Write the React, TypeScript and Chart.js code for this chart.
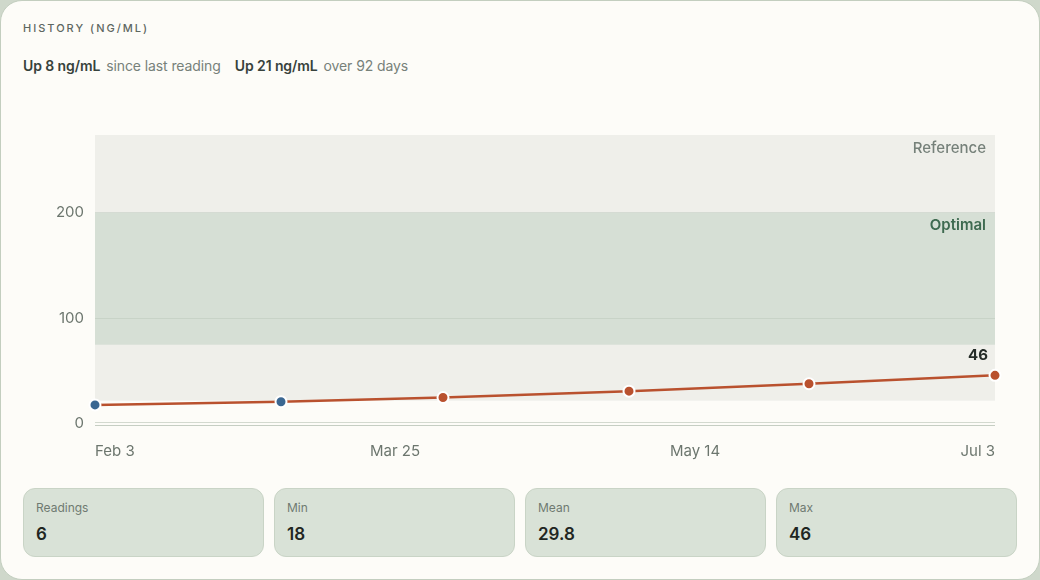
import React, { useEffect, useRef } from "react";
import { Chart, registerables } from "chart.js";

Chart.register(...registerables);

const readingDates = ["2025-02-03", "2025-03-06", "2025-04-02", "2025-05-03", "2025-06-02", "2025-07-03"];
const readingValues = [18, 21, 25, 31, 38, 46];
const pointColors = ["#3b6791", "#3b6791", "#b9512e", "#b9512e", "#b9512e", "#b9512e"];
const xTickDates = ["2025-02-03", "2025-03-25", "2025-05-14", "2025-07-03"];
const yTickValues = [0, 100, 200];
const referenceLow = 22;
const optimalRange = [75, 200];
const yMin = -2;
const yMax = 273.6;
const statLabels = ["Readings", "Min", "Mean", "Max"];
const statValues = ["6", "18", "29.8", "46"];

const FONT = "Inter, 'DejaVu Sans', sans-serif";
const DAY = 86400000;
const baseTime = Date.parse(readingDates[0] + "T00:00:00Z");
const toDay = (s: string) => Math.round((Date.parse(s + "T00:00:00Z") - baseTime) / DAY);
const MONTHS = ["Jan", "Feb", "Mar", "Apr", "May", "Jun", "Jul", "Aug", "Sep", "Oct", "Nov", "Dec"];
const fmtDay = (d: number) => {
  const dt = new Date(baseTime + d * DAY);
  return MONTHS[dt.getUTCMonth()] + " " + dt.getUTCDate();
};

const bandsPlugin = {
  id: "bands",
  beforeDraw(chart: any) {
    const { ctx, chartArea, scales } = chart;
    const y = scales.y;
    ctx.save();
    const top = chartArea.top;
    const refBottom = y.getPixelForValue(referenceLow);
    ctx.fillStyle = "#efefea";
    ctx.fillRect(chartArea.left, top, chartArea.right - chartArea.left, refBottom - top);
    const oTop = y.getPixelForValue(optimalRange[1]);
    const oBot = y.getPixelForValue(optimalRange[0]);
    ctx.fillStyle = "#d6dfd5";
    ctx.fillRect(chartArea.left, oTop, chartArea.right - chartArea.left, oBot - oTop);
    ctx.restore();
  },
  beforeDatasetsDraw(chart: any) {
    const { ctx, chartArea, scales } = chart;
    const y0 = scales.y.getPixelForValue(0);
    ctx.save();
    ctx.lineWidth = 1;
    ctx.strokeStyle = "#d3d9cf";
    ctx.beginPath();
    const a = Math.round(y0 - 1.5) + 0.5;
    ctx.moveTo(chartArea.left, a);
    ctx.lineTo(chartArea.right, a);
    ctx.stroke();
    ctx.strokeStyle = "#c6cec3";
    ctx.beginPath();
    const b = Math.round(y0 + 1.5) + 0.5;
    ctx.moveTo(chartArea.left, b);
    ctx.lineTo(chartArea.right, b);
    ctx.stroke();
    ctx.textAlign = "right";
    ctx.textBaseline = "middle";
    ctx.font = `500 15px ${FONT}`;
    ctx.fillStyle = "#76817a";
    ctx.fillText("Reference", chartArea.right - 9, chartArea.top + 13);
    ctx.font = `600 15px ${FONT}`;
    ctx.fillStyle = "#3e6a50";
    ctx.fillText("Optimal", chartArea.right - 9, scales.y.getPixelForValue(optimalRange[1]) + 13);
    ctx.restore();
  },
  afterDatasetsDraw(chart: any) {
    const { ctx } = chart;
    const meta = chart.getDatasetMeta(0);
    const last = meta.data[meta.data.length - 1];
    ctx.save();
    ctx.font = `700 15px ${FONT}`;
    ctx.fillStyle = "#252c28";
    ctx.textAlign = "right";
    ctx.textBaseline = "middle";
    ctx.fillText(String(readingValues[readingValues.length - 1]), last.x - 7, last.y - 20);
    ctx.restore();
  },
};

function HistoryChart() {
  const ref = useRef<HTMLCanvasElement>(null);
  useEffect(() => {
    if (!ref.current) return;
    const chart = new Chart(ref.current, {
      type: "line",
      data: {
        datasets: [
          {
            data: readingDates.map((d, i) => ({ x: toDay(d), y: readingValues[i] })),
            borderColor: "#b9512e",
            borderWidth: 2.5,
            pointBackgroundColor: pointColors,
            pointBorderColor: "#ffffff",
            pointBorderWidth: 2,
            pointRadius: 5.5,
            tension: 0,
            clip: false as any,
          },
        ],
      },
      options: {
        animation: false,
        responsive: true,
        maintainAspectRatio: false,
        layout: { padding: { top: 10, right: 22, left: 0, bottom: 0 } },
        plugins: { legend: { display: false }, tooltip: { enabled: false } },
        scales: {
          x: {
            type: "linear",
            min: toDay(xTickDates[0]),
            max: toDay(xTickDates[xTickDates.length - 1]),
            afterBuildTicks: (s: any) => {
              s.ticks = xTickDates.map((d) => ({ value: toDay(d) }));
            },
            afterFit: (s: any) => {
              s.height = 50;
            },
            grid: { display: false, drawTicks: false },
            border: { display: false },
            ticks: {
              align: "inner",
              autoSkip: false,
              maxRotation: 0,
              padding: 16,
              color: "#6c766e",
              font: { family: FONT, size: 15 },
              callback: (v: any) => fmtDay(Number(v)),
            },
          },
          y: {
            type: "linear",
            min: yMin,
            max: yMax,
            afterBuildTicks: (s: any) => {
              s.ticks = yTickValues.map((v) => ({ value: v }));
            },
            afterFit: (s: any) => {
              s.width = 72;
            },
            grid: {
              drawTicks: false,
              color: (c: any) => (c.tick && c.tick.value === 0 ? "rgba(0,0,0,0)" : "rgba(150,168,150,0.22)"),
            },
            border: { display: false },
            ticks: {
              padding: 11,
              color: "#6c766e",
              font: { family: FONT, size: 15 },
              callback: (v: any) => String(v),
            },
          },
        },
      },
      plugins: [bandsPlugin],
    } as any);
    return () => chart.destroy();
  }, []);
  return (
    <div style={{ position: "absolute", left: 22, top: 114, width: 994, height: 361 }}>
      <canvas ref={ref} />
    </div>
  );
}

export default function App() {
  useEffect(() => {
    document.body.style.margin = "0";
    document.body.style.background = "#cfd8cb";
  }, []);
  return (
    <div
      style={{
        position: "relative",
        width: 1040,
        height: 580,
        boxSizing: "border-box",
        border: "1px solid #c3cebf",
        borderRadius: 22,
        background: "#fdfcf8",
        fontFamily: FONT,
        overflow: "hidden",
      }}
    >
      <div
        style={{
          position: "absolute",
          left: 22,
          top: 19,
          fontSize: 11,
          lineHeight: "16px",
          letterSpacing: 2,
          fontWeight: 500,
          color: "#5d6761",
        }}
      >
        HISTORY (NG/ML)
      </div>
      <div
        style={{
          position: "absolute",
          left: 22,
          top: 56,
          fontSize: 14,
          lineHeight: "18px",
          whiteSpace: "nowrap",
          letterSpacing: -0.1,
        }}
      >
        <span style={{ fontWeight: 600, color: "#37423c" }}>Up 8 ng/mL</span>
        <span style={{ color: "#77817a", marginLeft: 6 }}>since last reading</span>
        <span style={{ fontWeight: 600, color: "#37423c", marginLeft: 14 }}>Up 21 ng/mL</span>
        <span style={{ color: "#77817a", marginLeft: 6 }}>over 92 days</span>
      </div>
      <HistoryChart />
      <div style={{ position: "absolute", left: 22, top: 487, width: 994, display: "flex", gap: 10 }}>
        {statLabels.map((l, i) => (
          <div
            key={l}
            style={{
              flex: 1,
              height: 69,
              boxSizing: "border-box",
              border: "1px solid #c9d4c6",
              borderRadius: 12,
              background: "#d9e2d7",
              padding: "12px 12px",
            }}
          >
            <div style={{ fontSize: 12, lineHeight: "14px", color: "#6f7a71" }}>{l}</div>
            <div style={{ fontSize: 17, lineHeight: "20px", fontWeight: 600, color: "#1f2622", marginTop: 9 }}>
              {statValues[i]}
            </div>
          </div>
        ))}
      </div>
    </div>
  );
}
